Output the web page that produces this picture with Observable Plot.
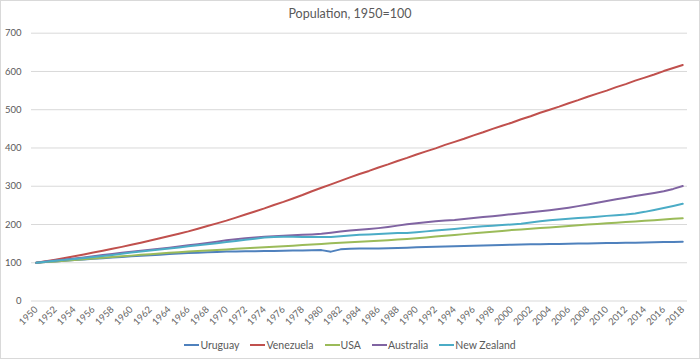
<!DOCTYPE html>
<html><head><meta charset="utf-8">
<script src="https://cdn.jsdelivr.net/npm/d3@7"></script>
<script src="https://cdn.jsdelivr.net/npm/@observablehq/plot@0.6"></script>
<style>
body{margin:0;background:#fff;}
#chart{position:relative;width:700px;height:359px;font-family:Lato,sans-serif;color:#595959;overflow:hidden;background:#fff}
#frame{position:absolute;left:0;top:0;width:700px;height:359px;box-sizing:border-box;border:1px solid #d9d9d9;pointer-events:none}
#title{position:absolute;top:6px;left:0;width:700px;text-align:center;font-size:12.5px;line-height:16px}
#plot{position:absolute;top:26px;left:0}
#legend{position:absolute;top:338px;left:0;width:700px;display:flex;justify-content:center;font-size:10.5px;line-height:14px}
.item{display:flex;align-items:center;margin:0 5.5px}
.sw{width:15px;height:2px;margin-right:1px}
</style>
</head><body>
<div id="chart">
  <div id="title">Population, 1950=100</div>
  <div id="plot"></div>
  <div id="legend"></div>
  <div id="frame"></div>
</div>
<script>
const years = d3.range(1950, 2019);
const xTicks = d3.range(1950, 2019, 2);
const yTicks = [0, 100, 200, 300, 400, 500, 600, 700];
const names = ["Uruguay", "Venezuela", "USA", "Australia", "New Zealand"];
const colors = ["#4F81BD", "#C0504D", "#9BBB59", "#8064A2", "#4BACC6"];

const uruguay = [
  100, 101.8, 103.5, 105.2, 106.9, 108.6, 110.3, 112, 113.7, 115.3,
  117, 118.4, 119.8, 121.2, 122.6, 124, 125.2, 126.3, 127.3, 128.3,
  129.2, 129.6, 130, 130.3, 130.6, 131, 131.4, 131.8, 132.2, 132.6,
  133, 129, 135, 136.5, 137, 137.2, 137.5, 138, 138.7, 139.5,
  140.3, 141, 141.7, 142.4, 143.1, 143.8, 144.5, 145.2, 145.9, 146.6,
  147.2, 147.7, 148.1, 148.5, 148.9, 149.3, 149.7, 150.1, 150.5, 150.9,
  151.3, 151.7, 152.1, 152.5, 153, 153.5, 154, 154.5, 155
];
const venezuela = [
  100, 104, 108, 112.5, 117, 121.5, 126.5, 131.5, 136.5, 141.5,
  147, 152.5, 158, 164, 170, 176, 182, 189, 196, 203,
  210, 218, 226, 234, 242, 251, 259, 268, 277, 287,
  296, 305, 314, 323, 332, 340, 349, 357, 366, 374,
  383, 391, 399, 408, 416, 424, 433, 441, 450, 458,
  466, 475, 483, 492, 500, 508, 517, 525, 534, 542,
  550, 559, 567, 576, 584, 592, 601, 609, 617
];
const usa = [
  100, 101.7, 103.5, 105.2, 107, 108.9, 110.9, 112.9, 114.8, 116.7,
  118.6, 120.6, 122.5, 124.2, 126, 127.6, 129.1, 130.5, 131.8, 133.1,
  134.7, 136.4, 137.8, 139.1, 140.4, 141.8, 143.1, 144.6, 146.2, 147.8,
  149.2, 150.7, 152.1, 153.5, 154.8, 156.2, 157.7, 159.1, 160.5, 162,
  163.9, 166.1, 168.4, 170.6, 172.7, 174.8, 176.9, 179, 181.1, 183.2,
  185.3, 187.1, 188.8, 190.5, 192.3, 194, 195.9, 197.8, 199.7, 201.4,
  203.1, 204.7, 206.3, 207.9, 209.6, 211.3, 213, 214.7, 216.4
];
const australia = [
  100, 103, 106, 108.5, 111, 114, 117, 120, 123, 126,
  128.5, 131.5, 134, 136.5, 139.5, 142.5, 145.5, 148.5, 151.5, 155,
  158.5, 161.5, 164, 166, 168, 169.5, 170.5, 172, 173, 174,
  175.5, 178.5, 181.5, 184, 186, 188, 190.5, 193.5, 197, 200.5,
  203.5, 206, 208.5, 210.5, 212, 214.5, 217, 219.5, 221.5, 224,
  227, 229.5, 232, 234.5, 237.5, 240.5, 244, 248, 252.5, 257,
  261.5, 266, 270, 274.5, 278.5, 282.5, 287, 293, 300.5
];
const newZealand = [
  100, 102.5, 105, 107.5, 110, 112.5, 115, 117.5, 120.5, 123.5,
  126.5, 129.5, 132, 134.5, 137, 140, 143, 146, 148.5, 151,
  154, 157, 160, 163, 166, 167.5, 168, 168, 167.5, 167,
  167, 167.5, 169, 171, 173, 174, 175, 176.5, 177.5, 178,
  180, 182, 184, 186, 188.5, 191, 193.5, 195.5, 197, 198.5,
  200, 202, 205, 208.5, 211, 213, 215, 217, 218.5, 220.5,
  222.5, 224, 226, 229, 233, 238, 243, 248.5, 254
];

const seriesValues = [uruguay, venezuela, usa, australia, newZealand];
const data = [];
names.forEach((n, k) => years.forEach((yr, i) => {
  if (seriesValues[k][i] != null) data.push({year: yr, value: seriesValues[k][i], country: n});
}));

const chart = Plot.plot({
  width: 700,
  height: 307,
  marginLeft: 31,
  marginRight: 13,
  marginTop: 6.7,
  marginBottom: 32.5,
  x: {domain: [1949.5, 2018.5]},
  y: {domain: [0, 700]},
  color: {domain: names, range: colors},
  style: {fontFamily: "Lato, sans-serif", fontSize: "9.5px", color: "#595959", background: "transparent", overflow: "visible"},
  marks: [
    Plot.ruleY(yTicks, {stroke: "#d9d9d9", strokeWidth: 1, strokeOpacity: 1}),
    Plot.axisY({ticks: yTicks, tickSize: 0, tickPadding: 10, label: null, fill: "#595959"}),
    Plot.axisX({ticks: xTicks, tickSize: 0, tickRotate: -45, tickPadding: 7, tickFormat: d => String(d), label: null, fill: "#666666"}),
    Plot.line(data, {x: "year", y: "value", stroke: "country", strokeWidth: 2, z: "country"})
  ]
});
document.getElementById("plot").appendChild(chart);

const legend = document.getElementById("legend");
names.forEach((n, k) => {
  const it = document.createElement("div");
  it.className = "item";
  const sw = document.createElement("div");
  sw.className = "sw";
  sw.style.background = colors[k];
  const tx = document.createElement("span");
  tx.textContent = n;
  it.appendChild(sw); it.appendChild(tx);
  legend.appendChild(it);
});
</script>
</body></html>
